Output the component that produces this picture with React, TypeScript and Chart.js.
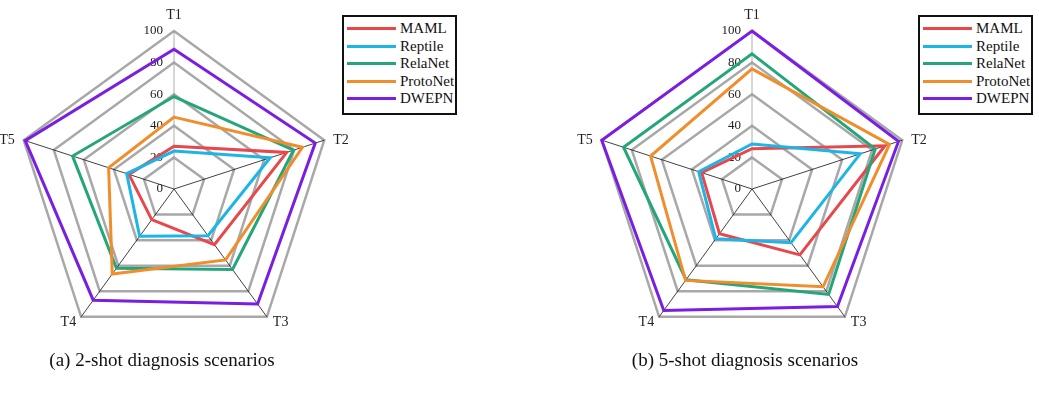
import React, { useEffect, useRef } from 'react';
import Chart from 'chart.js/auto';

// Axes and tick labels
const AXES = ['T1', 'T2', 'T3', 'T4', 'T5'];
const TICKS = [0, 20, 40, 60, 80, 100];

const METHODS = ['MAML', 'Reptile', 'RelaNet', 'ProtoNet', 'DWEPN'];
const COLORS = ['#e8474c', '#1cb5e5', '#24a67a', '#f18d2a', '#7a1fe0'];

// (a) 2-shot scenario, values per T1..T5
const MAML_2 = [27, 75, 43.5, 24, 30];
const REPTILE_2 = [24, 64, 36.5, 37, 31.5];
const RELANET_2 = [58.5, 79.5, 63, 62, 67.5];
const PROTONET_2 = [45.5, 85.5, 55.5, 66.5, 43.5];
const DWEPN_2 = [88.5, 94, 90, 87, 99];

// (b) 5-shot scenario
const MAML_5 = [25.5, 88.5, 51.5, 35, 33.5];
const REPTILE_5 = [28.5, 72, 42, 39, 35.5];
const RELANET_5 = [85.5, 82, 82.5, 71, 85.5];
const PROTONET_5 = [76, 91.5, 76.5, 71.5, 67.5];
const DWEPN_5 = [100, 97.5, 92, 95, 100];

const SERIF = '"Liberation Serif", "Times New Roman", serif';

// offsets of each axis label from its outer vertex: [dx, dy, align]
const LABEL_POS: [number, number, CanvasTextAlign][] = [
  [0, -16, 'center'],
  [9, 0, 'left'],
  [6, 6, 'left'],
  [-5, 6, 'right'],
  [-9, 0, 'right'],
];

const overlay = {
  id: 'overlay',
  beforeDatasetsDraw(chart: any) {
    const s = chart.scales.r;
    const ctx = chart.ctx;
    ctx.save();
    ctx.fillStyle = '#222';
    ctx.textBaseline = 'middle';
    // tick labels left of the T1 axis
    ctx.font = `13px ${SERIF}`;
    ctx.textAlign = 'right';
    TICKS.forEach((v) => {
      const d = s.getDistanceFromCenterForValue(v);
      ctx.fillText(String(v), s.xCenter - 11, s.yCenter - d);
    });
    // axis names
    ctx.font = `14px ${SERIF}`;
    AXES.forEach((lab, i) => {
      const p = s.getPointPosition(i, s.drawingArea);
      const [dx, dy, align] = LABEL_POS[i];
      ctx.textAlign = align;
      ctx.fillText(lab, p.x + dx, p.y + dy);
    });
    ctx.restore();
  },
};

const RadarPanel: React.FC<{ series: number[][]; left: number; legendLeft: number; caption: string; captionX: number }> = ({
  series,
  left,
  legendLeft,
  caption,
  captionX,
}) => {
  const canvasRef = useRef<HTMLCanvasElement>(null);

  useEffect(() => {
    if (!canvasRef.current) return;
    const chart = new Chart(canvasRef.current, {
      type: 'radar',
      data: {
        labels: AXES,
        datasets: METHODS.map((m, i) => ({
          label: m,
          data: series[i],
          borderColor: COLORS[i],
          backgroundColor: 'transparent',
          borderWidth: 3,
          borderJoinStyle: 'miter',
          fill: false,
          pointRadius: 0,
          order: METHODS.length - i,
        })),
      },
      options: {
        responsive: false,
        animation: false,
        layout: { padding: 32 },
        plugins: { legend: { display: false }, tooltip: { enabled: false } },
        scales: {
          r: {
            min: 0,
            max: 100,
            ticks: { stepSize: 20, display: false },
            grid: { color: '#a8a8a8', lineWidth: 2.5, circular: false },
            angleLines: {
              color: (ctx: any) => (ctx.index === 0 ? '#999' : '#111'),
              lineWidth: 0.8,
            },
            pointLabels: { display: false },
          },
        },
      },
      plugins: [overlay],
    });
    return () => chart.destroy();
  }, [series]);

  return (
    <>
      <canvas
        ref={canvasRef}
        width={380}
        height={380}
        style={{ position: 'absolute', left, top: -1, width: 380, height: 380 }}
      />
      <div
        style={{
          position: 'absolute',
          left: legendLeft,
          top: 15,
          width: 115,
          height: 100,
          boxSizing: 'border-box',
          border: '2px solid #111',
          paddingTop: 3,
          background: '#fff',
        }}
      >
        {METHODS.map((m, i) => (
          <div key={m} style={{ height: 17.5, display: 'flex', alignItems: 'center' }}>
            <span style={{ display: 'inline-block', marginLeft: 3, width: 49, height: 3, background: COLORS[i] }} />
            <span style={{ marginLeft: 4, font: `15px ${SERIF}`, color: '#111', lineHeight: '17px' }}>{m}</span>
          </div>
        ))}
      </div>
      <div
        style={{
          position: 'absolute',
          left: captionX,
          top: 349,
          transform: 'translateX(-50%)',
          whiteSpace: 'nowrap',
          font: `19px ${SERIF}`,
          color: '#111',
          lineHeight: '22px',
        }}
      >
        {caption}
      </div>
    </>
  );
};

const SERIES_2 = [MAML_2, REPTILE_2, RELANET_2, PROTONET_2, DWEPN_2];
const SERIES_5 = [MAML_5, REPTILE_5, RELANET_5, PROTONET_5, DWEPN_5];

export default function App() {
  return (
    <div style={{ position: 'absolute', left: 0, top: 0, width: 1039, height: 415, background: '#fff', overflow: 'hidden' }}>
      <RadarPanel series={SERIES_2} left={-16} legendLeft={342} caption="(a) 2-shot diagnosis scenarios" captionX={162} />
      <RadarPanel series={SERIES_5} left={562} legendLeft={918} caption="(b) 5-shot diagnosis scenarios" captionX={745} />
    </div>
  );
}
